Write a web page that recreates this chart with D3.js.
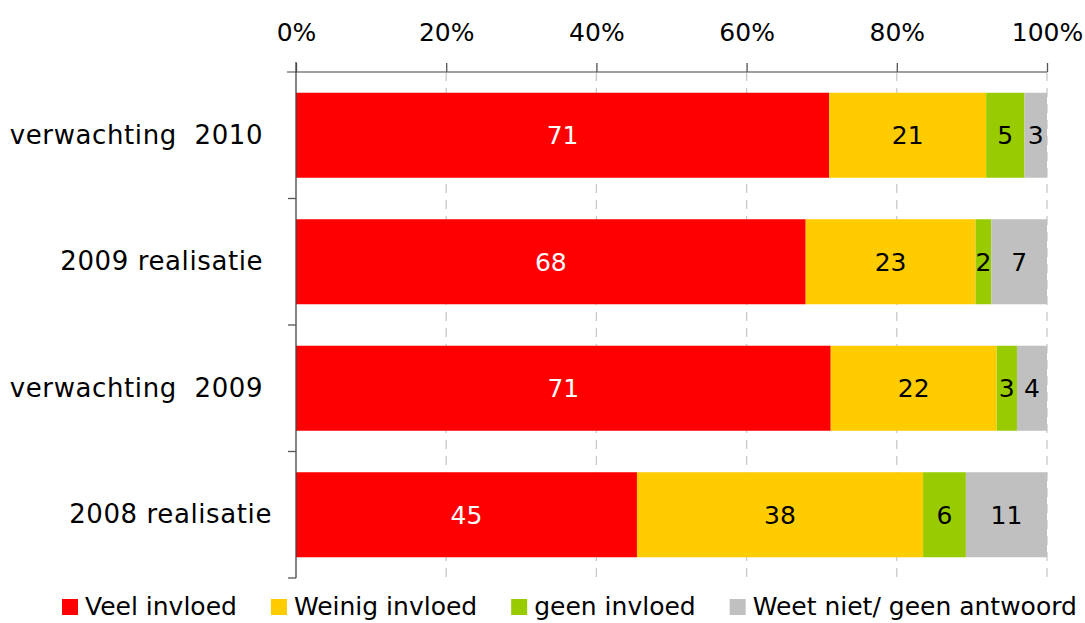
<!DOCTYPE html>
<html>
<head>
<meta charset="utf-8">
<script src="https://cdn.jsdelivr.net/npm/d3@7"></script>
<style>
  body { margin: 0; background: #fff; }
  text { font-family: "DejaVu Sans", Verdana, sans-serif; white-space: pre; }
</style>
</head>
<body>
<div id="chart"></div>
<script>
// data (bar widths in %, labels are the rounded values)
var categories = ["verwachting  2010 ", "2009 realisatie ", "verwachting  2009 ", "2008 realisatie"];
var seriesNames = ["Veel invloed", "Weinig invloed", "geen invloed", "Weet niet/ geen antwoord"];
var veelInvloed   = [71.0, 67.8, 71.2, 45.4];
var weinigInvloed = [20.9, 22.6, 22.1, 38.1];
var geenInvloed   = [5.1, 2.1, 2.7, 5.7];
var weetNiet      = [3.0, 7.4, 4.0, 10.8];
var xTicks = [0, 0.2, 0.4, 0.6, 0.8, 1];

var colors = ["#ff0000", "#ffcc00", "#99cc00", "#c0c0c0"];
var labelColors = ["#fff", "#000", "#000", "#000"];

var W = 1085, H = 623;
var margin = {top: 72, left: 296, right: 38, bottom: 45};
var width = W - margin.left - margin.right,
    height = H - margin.top - margin.bottom;

var rows = categories.map(function(c, i) {
  return {cat: c, 0: veelInvloed[i], 1: weinigInvloed[i], 2: geenInvloed[i], 3: weetNiet[i]};
});

var stack = d3.stack().keys([0, 1, 2, 3]).offset(d3.stackOffsetExpand);
var layers = stack(rows);

var svg = d3.select("#chart").append("svg")
  .attr("width", W).attr("height", H);

var g = svg.append("g")
  .attr("transform", "translate(" + margin.left + "," + margin.top + ")");

var x = d3.scaleLinear().domain([0, 1]).range([0, width]);
var y = d3.scaleBand().domain(categories).range([0, height])
  .paddingInner(0.328).paddingOuter(0.164);

// dashed gridlines
g.append("g").selectAll("line")
  .data(xTicks.slice(1))
  .join("line")
  .attr("x1", function(d) { return x(d); }).attr("x2", function(d) { return x(d); })
  .attr("y1", 0).attr("y2", height)
  .attr("stroke", "#c8c8c8").attr("stroke-width", 1.3)
  .attr("stroke-dasharray", "9,7");

// bars
var layer = g.append("g").selectAll("g")
  .data(layers)
  .join("g")
  .attr("fill", function(d) { return colors[d.key]; });

layer.selectAll("rect")
  .data(function(d) { return d; })
  .join("rect")
  .attr("x", function(d) { return x(d[0]); })
  .attr("width", function(d) { return x(d[1]) - x(d[0]); })
  .attr("y", function(d) { return y(d.data.cat); })
  .attr("height", y.bandwidth());

// value labels
layer.selectAll("text")
  .data(function(d) { return d.map(function(p) { return {p: p, key: d.key}; }); })
  .join("text")
  .attr("x", function(d) { return x((d.p[0] + d.p[1]) / 2); })
  .attr("y", function(d) { return y(d.p.data.cat) + y.bandwidth() / 2; })
  .attr("dy", "0.36em")
  .attr("text-anchor", "middle")
  .attr("font-size", 25)
  .attr("fill", function(d) { return labelColors[d.key]; })
  .text(function(d) { return Math.round(d.p.data[d.key]); });

// top axis
var xAxis = g.append("g")
  .call(d3.axisTop(x).tickValues(xTicks).tickFormat(d3.format(".0%"))
    .tickSize(9).tickSizeOuter(0).tickPadding(22));
xAxis.select(".domain").attr("stroke", "#808080").attr("stroke-width", 1.5)
  .attr("d", "M-9,0H" + width);
xAxis.selectAll(".tick line").attr("stroke", "#555").attr("stroke-width", 1.3);
xAxis.selectAll(".tick text").attr("font-size", 25).attr("font-family", null).attr("fill", "#000");

// left axis: line, ticks at band boundaries, labels at band centres
var yAxis = g.append("g")
  .call(d3.axisLeft(y).tickSize(0).tickPadding(24));
yAxis.select(".domain").attr("stroke", "#444").attr("stroke-width", 1.3)
  .attr("d", "M0,-10V" + height);
yAxis.selectAll(".tick text").attr("font-size", 26).attr("letter-spacing", 0.6)
  .attr("font-family", null).attr("fill", "#000");

g.append("g").selectAll("line")
  .data(d3.range(1, categories.length + 1))
  .join("line")
  .attr("x1", -8).attr("x2", 0)
  .attr("y1", function(i) { return i * y.step(); })
  .attr("y2", function(i) { return i * y.step(); })
  .attr("stroke", "#555").attr("stroke-width", 1.3);

// legend
var legend = svg.append("g").attr("transform", "translate(62,599)");
var lx = 0;
seriesNames.forEach(function(name, i) {
  var item = legend.append("g").attr("transform", "translate(" + lx + ",0)");
  item.append("rect").attr("width", 16).attr("height", 16).attr("fill", colors[i]);
  var t = item.append("text").attr("x", 23).attr("y", 16)
    .attr("font-size", 25).attr("fill", "#000").text(name);
  lx += 23 + t.node().getComputedTextLength() + 34;
});
</script>
</body>
</html>
